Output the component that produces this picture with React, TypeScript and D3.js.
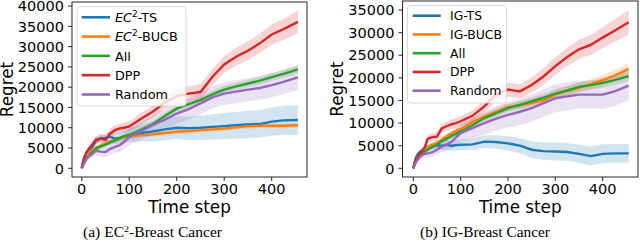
import React from 'react';
import * as d3 from 'd3';

const steps = [0, 5, 10, 15, 20, 25, 30, 40, 50, 60, 70, 80, 90, 100, 125, 150, 175, 200, 225, 250, 275, 300, 325, 350, 375, 400, 425, 455];

// (a) EC2 - Breast Cancer
const ec2TS = [0, 2600, 3900, 4600, 5000, 5800, 6800, 7400, 7500, 7800, 7300, 7500, 7900, 8200, 8700, 9100, 9600, 10000, 9900, 10000, 10200, 10400, 10600, 10800, 10900, 11500, 11800, 11900];
const ec2TSBand = [0, 300, 500, 600, 700, 800, 900, 1000, 1100, 1200, 1300, 1400, 1500, 1700, 2100, 2500, 2700, 2800, 2900, 3000, 3100, 3200, 3300, 3400, 3400, 3500, 3600, 3700];
const ec2BUCB = [0, 2400, 3700, 4000, 4200, 4700, 5100, 5600, 6100, 6600, 7000, 7300, 7600, 7800, 8100, 8400, 8700, 9000, 9200, 9400, 9600, 9800, 10100, 10400, 10500, 10500, 10500, 10600];
const ec2BUCBBand = [0, 200, 300, 300, 400, 400, 400, 500, 500, 500, 500, 500, 500, 500, 500, 500, 500, 600, 600, 600, 600, 600, 600, 600, 600, 600, 600, 600];
const ec2All = [0, 1800, 2700, 3200, 3700, 4300, 4800, 5400, 5800, 6400, 6900, 7400, 7900, 8200, 9500, 10900, 12900, 14700, 15800, 16800, 18200, 19400, 20200, 20900, 21600, 22500, 23300, 24400];
const ec2AllBand = [0, 300, 400, 500, 500, 600, 600, 700, 700, 700, 700, 700, 700, 700, 700, 800, 800, 800, 800, 800, 900, 900, 900, 900, 1000, 1000, 1000, 1000];
const ec2DPP = [0, 2500, 3900, 4800, 5500, 6300, 7000, 7300, 7000, 8600, 9400, 9800, 10000, 10300, 12200, 14000, 16200, 17800, 18400, 18800, 22500, 25600, 27500, 29000, 30800, 33000, 34300, 36100];
const ec2DPPBand = [0, 400, 600, 800, 900, 1000, 1000, 1100, 1100, 1200, 1200, 1200, 1300, 1300, 1400, 1500, 1600, 1700, 1800, 1900, 2000, 2100, 2200, 2300, 2400, 2500, 2600, 2800];
const ec2Random = [0, 1200, 2300, 2900, 3300, 3800, 4300, 4100, 4000, 4800, 5300, 5700, 6600, 7700, 9200, 10700, 12000, 13500, 14600, 16000, 17500, 18400, 18900, 19400, 19800, 20500, 21300, 22400];
const ec2RandomBand = [0, 400, 600, 800, 900, 1000, 1100, 1200, 1300, 1400, 1500, 1700, 1800, 2000, 2200, 2400, 2500, 2600, 2600, 2700, 2700, 2800, 2800, 2900, 2900, 3000, 3000, 3100];

// (b) IG - Breast Cancer
const igTS = [0, 2300, 3200, 3700, 4000, 4300, 4600, 4900, 5100, 5000, 5200, 5000, 5100, 5200, 5300, 5900, 5800, 5500, 5000, 4100, 3800, 3700, 3600, 3200, 2700, 3200, 3300, 3300];
const igTSBand = [0, 300, 400, 500, 600, 700, 700, 800, 900, 1000, 1100, 1100, 1200, 1200, 1300, 1400, 1500, 1600, 1700, 1800, 1900, 2000, 2000, 2000, 2100, 2100, 2100, 2100];
const igBUCB = [0, 1500, 2300, 2800, 3300, 4000, 4600, 5200, 5600, 6300, 7100, 7700, 8300, 8700, 10200, 11500, 12500, 13500, 14000, 14400, 15000, 16300, 17100, 17800, 18600, 19500, 20500, 22000];
const igBUCBBand = [0, 200, 300, 300, 400, 400, 500, 500, 600, 600, 600, 700, 700, 700, 800, 800, 900, 900, 900, 1000, 1000, 1000, 1100, 1100, 1100, 1200, 1200, 1200];
const igAll = [0, 1800, 2500, 3000, 3400, 3700, 4100, 4700, 5200, 6000, 6500, 7100, 7600, 8100, 9500, 11100, 12200, 13300, 14000, 14800, 15600, 16500, 17200, 18000, 18400, 18900, 19500, 20400];
const igAllBand = [0, 200, 300, 300, 400, 400, 500, 500, 500, 600, 600, 600, 700, 700, 700, 800, 800, 800, 900, 900, 900, 1000, 1000, 1000, 1000, 1100, 1100, 1100];
const igDPP = [0, 1800, 2700, 3400, 4000, 4800, 6500, 6900, 7000, 8800, 9300, 9700, 10000, 10400, 11600, 13700, 16300, 17400, 17000, 18400, 20300, 22600, 24600, 26300, 27300, 28900, 30400, 32300];
const igDPPBand = [0, 300, 500, 600, 700, 800, 900, 900, 1000, 1000, 1000, 1100, 1100, 1100, 1200, 1300, 1400, 1500, 1600, 1700, 1800, 1900, 2000, 2100, 2200, 2300, 2500, 2700];
const igRandom = [0, 1200, 2000, 2600, 3000, 3200, 3300, 3500, 4100, 4800, 5200, 5800, 6800, 7800, 8900, 10000, 11000, 11800, 12500, 13300, 14400, 15500, 15900, 16300, 16300, 16300, 17000, 18300];
const igRandomBand = [0, 300, 500, 600, 700, 800, 900, 1000, 1100, 1200, 1400, 1600, 1800, 2000, 2300, 2500, 2700, 2800, 2900, 3000, 3000, 3100, 3100, 3100, 3100, 3200, 3200, 3200];

const xTicks = [0, 100, 200, 300, 400];
const ec2YTicks = [0, 5000, 10000, 15000, 20000, 25000, 30000, 35000, 40000];
const igYTicks = [0, 5000, 10000, 15000, 20000, 25000, 30000, 35000];
const colors = ['#1f77b4', '#ff7f0e', '#2ca02c', '#d62728', '#9467bd'];

const font = 'DejaVu Sans, sans-serif';

function seriesOf(names, values, bands) {
    return names.map((name, i) => ({
        name,
        color: colors[i],
        points: steps.map((t, j) => ({ t, v: values[i][j], b: bands[i][j] })),
    }));
}

const ec2Series = seriesOf(
    ['EC2-TS', 'EC2-BUCB', 'All', 'DPP', 'Random'],
    [ec2TS, ec2BUCB, ec2All, ec2DPP, ec2Random],
    [ec2TSBand, ec2BUCBBand, ec2AllBand, ec2DPPBand, ec2RandomBand]
);
const igSeries = seriesOf(
    ['IG-TS', 'IG-BUCB', 'All', 'DPP', 'Random'],
    [igTS, igBUCB, igAll, igDPP, igRandom],
    [igTSBand, igBUCBBand, igAllBand, igDPPBand, igRandomBand]
);

function LegendLabel({ name }) {
    if (name.startsWith('EC2')) {
        return (
            <>
                <tspan fontStyle="italic">EC</tspan>
                <tspan fontSize="9px" dy="-5">2</tspan>
                <tspan dy="5">{name.slice(3)}</tspan>
            </>
        );
    }
    return <>{name}</>;
}

function Panel({ box, xDomain, yDomain, yTicks, series, legend, ylabelX, caption }) {
    const x = d3.scaleLinear().domain(xDomain).range([box.left, box.right]);
    const y = d3.scaleLinear().domain(yDomain).range([box.bottom, box.top]);
    const line = d3.line().x((d) => x(d.t)).y((d) => y(d.v));
    const area = d3
        .area()
        .x((d) => x(d.t))
        .y0((d) => y(d.v - d.b))
        .y1((d) => y(d.v + d.b));
    const cx = (box.left + box.right) / 2;
    const cy = (box.top + box.bottom) / 2;

    return (
        <g>
            {series.map((s) => (
                <path key={'a' + s.name} d={area(s.points)} fill={s.color} opacity={0.2} />
            ))}
            {series.map((s) => (
                <path key={'l' + s.name} d={line(s.points)} fill="none" stroke={s.color} strokeWidth={2.4} />
            ))}
            <rect
                x={box.left}
                y={box.top}
                width={box.right - box.left}
                height={box.bottom - box.top}
                fill="none"
                stroke="#111"
                strokeWidth={0.9}
            />
            {/* x axis */}
            {xTicks.map((t) => (
                <g key={'x' + t}>
                    <line x1={x(t)} x2={x(t)} y1={box.bottom} y2={box.bottom + 4} stroke="#111" strokeWidth={0.9} />
                    <text x={x(t)} y={193.5} textAnchor="middle" fontFamily={font} fontSize="14.5px">
                        {t}
                    </text>
                </g>
            ))}
            {/* y axis */}
            {yTicks.map((t) => (
                <g key={'y' + t}>
                    <line x1={box.left - 4} x2={box.left} y1={y(t)} y2={y(t)} stroke="#111" strokeWidth={0.9} />
                    <text x={box.left - 8} y={y(t)} dy="0.36em" textAnchor="end" fontFamily={font} fontSize="14.5px">
                        {t}
                    </text>
                </g>
            ))}
            <text x={cx} y={212.5} textAnchor="middle" fontFamily={font} fontSize="16.8px">
                Time step
            </text>
            <text
                transform={`translate(${ylabelX},${cy}) rotate(-90)`}
                textAnchor="middle"
                fontFamily={font}
                fontSize="16.8px"
            >
                Regret
            </text>
            {/* legend */}
            <rect
                x={legend.x}
                y={legend.y}
                width={legend.w}
                height={legend.h}
                rx={3}
                fill="white"
                fillOpacity={0.8}
                stroke="#d0d0d0"
                strokeWidth={0.8}
            />
            {series.map((s, i) => {
                const ly = legend.first + i * legend.step;
                return (
                    <g key={'g' + s.name}>
                        <line x1={legend.lx1} x2={legend.lx2} y1={ly} y2={ly} stroke={s.color} strokeWidth={2.6} />
                        <text x={legend.tx} y={ly} dy="0.36em" fontFamily={font} fontSize={legend.fs}>
                            <LegendLabel name={s.name} />
                        </text>
                    </g>
                );
            })}
            <text
                x={caption.x}
                y={237}
                textAnchor="middle"
                fontFamily="Liberation Serif, Times New Roman, serif"
                fontSize="14px"
                textLength={caption.w}
                lengthAdjust="spacingAndGlyphs"
            >
                {caption.pre}
                {caption.sup ? (
                    <>
                        <tspan fontSize="9px" dy="-5">
                            2
                        </tspan>
                        <tspan dy="5">{caption.post}</tspan>
                    </>
                ) : null}
            </text>
        </g>
    );
}

export default function App() {
    return (
        <svg width={640} height={243} style={{ position: 'absolute', left: 0, top: 0, background: 'white' }}>
            <Panel
                box={{ left: 72, right: 307, top: 2, bottom: 177 }}
                xDomain={[-20.5, 474.3]}
                yDomain={[-2150, 41000]}
                yTicks={ec2YTicks}
                series={ec2Series}
                ylabelX={13}
                legend={{ x: 77, y: 6.5, w: 109, h: 99.5, first: 17.3, step: 19.3, lx1: 81.7, lx2: 110, tx: 115, fs: '12.8px' }}
                caption={{ x: 152.5, w: 139, pre: '(a) EC', sup: true, post: '-Breast Cancer' }}
            />
            <Panel
                box={{ left: 402.5, right: 638, top: 1, bottom: 177 }}
                xDomain={[-22.8, 474.6]}
                yDomain={[-1924, 36990]}
                yTicks={igYTicks}
                series={igSeries}
                ylabelX={343}
                legend={{ x: 407.5, y: 5.5, w: 99, h: 97.5, first: 15.7, step: 18.75, lx1: 412.7, lx2: 440.7, tx: 450, fs: '12.4px' }}
                caption={{ x: 485, w: 130, pre: '(b) IG-Breast Cancer', sup: false, post: '' }}
            />
        </svg>
    );
}
